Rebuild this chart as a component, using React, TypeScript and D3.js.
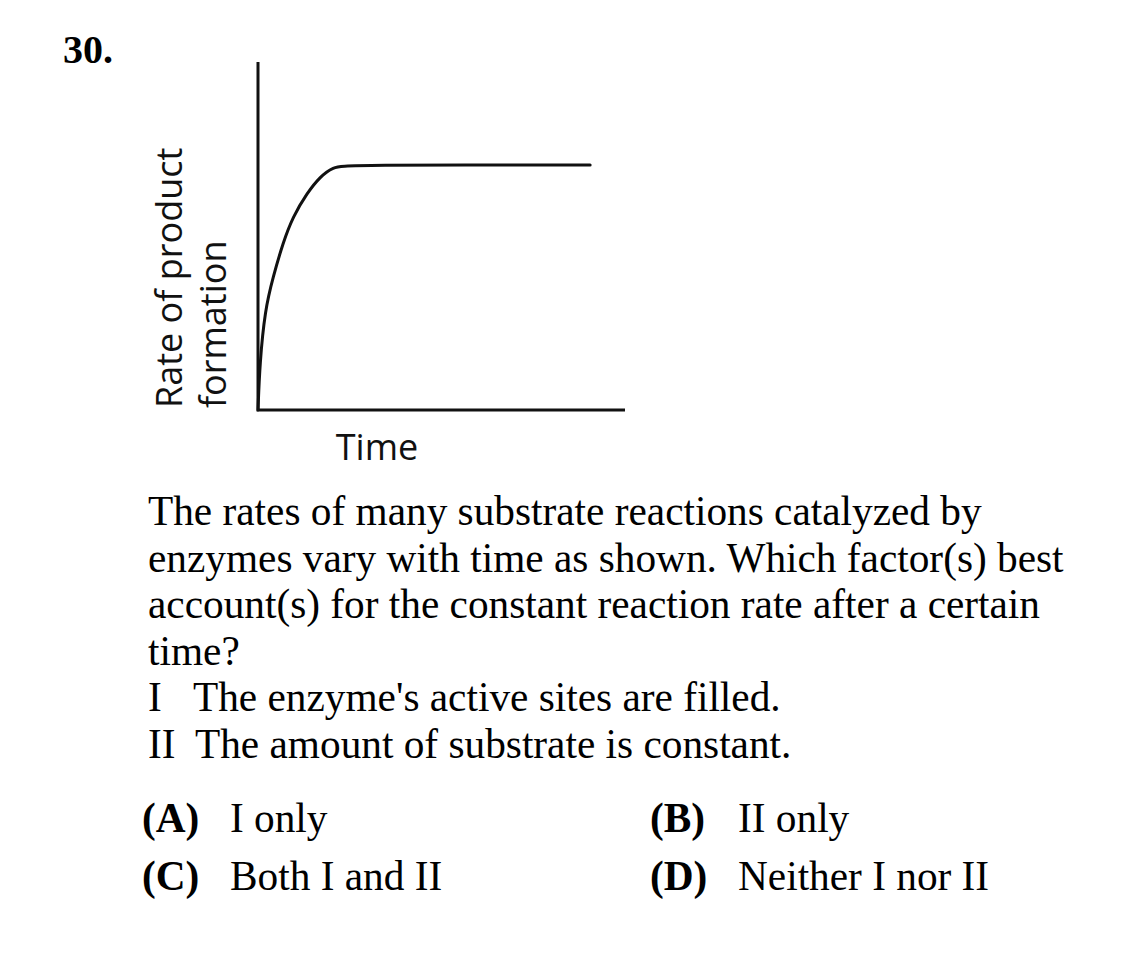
import React, { useEffect, useRef } from 'react';
import * as d3 from 'd3';

// curve: time vs rate (arbitrary units 0-10)
const times = [0, 0.05, 0.19, 0.41, 0.68, 0.95, 1.34, 1.69, 2.04, 2.43, 9.05];
const rates = [0, 1.35, 2.87, 3.82, 4.8, 5.55, 6.24, 6.7, 6.98, 7.04, 7.04];

const questionNumber = '30.';
const xLabel = 'Time';
const yLabelLines = ['Rate of product', 'formation'];
const stemLines = [
  'The rates of many substrate reactions catalyzed by',
  'enzymes vary with time as shown. Which factor(s) best',
  'account(s) for the constant reaction rate after a certain',
  'time?',
];
const statements = [
  ['I', "The enzyme's active sites are filled."],
  ['II', 'The amount of substrate is constant.'],
];
const choices = [
  ['(A)', 'I only'],
  ['(B)', 'II only'],
  ['(C)', 'Both I and II'],
  ['(D)', 'Neither I nor II'],
];

const W = 1145;
const H = 971;

export default function App() {
  const svgRef = useRef<SVGSVGElement>(null);

  useEffect(() => {
    if (!svgRef.current) return;
    const svg = d3.select(svgRef.current);
    svg.selectAll('*').remove();

    const serif = '"Liberation Serif", "Times New Roman", serif';
    const sans = '"Open Sans", "DejaVu Sans", sans-serif';

    const x = d3.scaleLinear().domain([0, 10]).range([258, 625]);
    const y = d3.scaleLinear().domain([0, 10]).range([410, 62]);

    svg.append('text')
      .attr('x', 63)
      .attr('y', 63)
      .attr('font-family', serif)
      .attr('font-weight', 'bold')
      .attr('font-size', 40)
      .text(questionNumber);

    // axes (no ticks)
    svg.append('path')
      .attr('d', `M${x(0)},${y(10)}V${y(0)}H${x(10)}`)
      .attr('stroke', '#111')
      .attr('stroke-width', 3)
      .attr('fill', 'none');

    const pts = times.map((t, i) => [t, rates[i]] as [number, number]);
    const line = d3.line<[number, number]>()
      .x(d => x(d[0]))
      .y(d => y(d[1]))
      .curve(d3.curveBasis);
    svg.append('path')
      .datum(pts)
      .attr('d', line)
      .attr('fill', 'none')
      .attr('stroke', '#111')
      .attr('stroke-width', 3)
      .attr('stroke-linecap', 'round');

    svg.append('text')
      .attr('x', 377)
      .attr('y', 460)
      .attr('text-anchor', 'middle')
      .attr('font-family', sans)
      .attr('font-size', 36)
      .attr('fill', '#111')
      .text(xLabel);

    const yl = svg.append('g')
      .attr('font-family', sans)
      .attr('font-size', 36)
      .attr('fill', '#111');
    yLabelLines.forEach((s, i) => {
      const bx = 182 + i * 44;
      yl.append('text')
        .attr('transform', `translate(${bx},${y(0) - 2}) rotate(-90)`)
        .text(s);
    });

    const body = svg.append('g')
      .attr('font-family', serif)
      .attr('font-size', 41.3)
      .attr('fill', '#000');

    const lh = 46.6;
    stemLines.forEach((s, i) => {
      body.append('text').attr('x', 148).attr('y', 525 + i * lh).text(s);
    });
    statements.forEach(([n, s], i) => {
      const yy = 525 + (stemLines.length + i) * lh;
      body.append('text').attr('x', 148).attr('y', yy).text(n);
      body.append('text').attr('x', i === 0 ? 193 : 195).attr('y', yy).text(s);
    });

    choices.forEach(([k, s], i) => {
      const col = i % 2;
      const row = Math.floor(i / 2);
      const bx = col === 0 ? 142 : 650;
      const yy = 832 + row * 58;
      body.append('text')
        .attr('x', bx).attr('y', yy)
        .attr('font-weight', 'bold')
        .text(k);
      body.append('text')
        .attr('x', bx + 88).attr('y', yy)
        .text(s);
    });
  }, []);

  return (
    <svg
      ref={svgRef}
      width={W}
      height={H}
      viewBox={`0 0 ${W} ${H}`}
      style={{ position: 'absolute', left: 0, top: 0, background: '#fff' }}
    />
  );
}
